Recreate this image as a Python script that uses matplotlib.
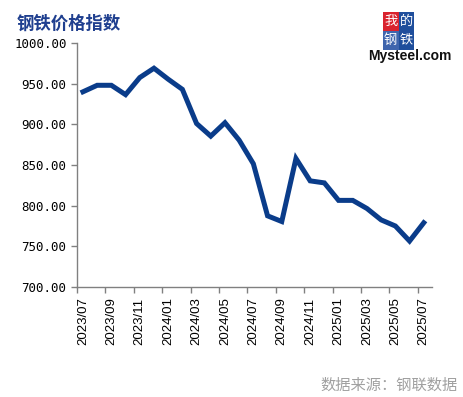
import matplotlib.pyplot as plt
import matplotlib.patches as mpatches
import numpy as np

# monthly steel price index, 2023/07 .. 2025/07
months = ['2023/07', '2023/08', '2023/09', '2023/10', '2023/11', '2023/12',
          '2024/01', '2024/02', '2024/03', '2024/04', '2024/05', '2024/06',
          '2024/07', '2024/08', '2024/09', '2024/10', '2024/11', '2024/12',
          '2025/01', '2025/02', '2025/03', '2025/04', '2025/05', '2025/06',
          '2025/07']
index_vals = [940, 948, 948, 936.5, 957.5, 969, 955.5, 943, 901, 885.5,
              902, 880.5, 851.5, 787.5, 780.5, 858, 830.5, 828, 806.5, 806.5,
              796.5, 782.5, 775, 756.5, 779]
tick_labels = months[::2]
y_ticks = [700, 750, 800, 850, 900, 950, 1000]

W, H = 463, 397
fig = plt.figure(figsize=(W / 100, H / 100), dpi=100)
ax = fig.add_axes([77 / W, 1 - 287 / H, (432 - 77) / W, (287 - 43) / H])

x = np.arange(len(months)) + 0.42   # data dated mid-month
ax.plot(x, index_vals, color='#0a3c8a', lw=3.6, solid_joinstyle='miter')

ax.set_xlim(0, len(months))
ax.set_ylim(700, 1000)
ax.set_xticks(np.arange(0, len(months), 2))
ax.set_xticklabels(tick_labels, rotation=90, ha='left', va='top',
                   family='Liberation Sans', fontsize=9.5)
ax.set_yticks(y_ticks)
ax.set_yticklabels([f'{v:.2f}' for v in y_ticks], family='DejaVu Sans Mono', fontsize=9)

for s in ['top', 'right']:
    ax.spines[s].set_visible(False)
for s in ['left', 'bottom']:
    ax.spines[s].set_color('#808080')
    ax.spines[s].set_linewidth(1)
ax.tick_params(axis='both', color='#808080', length=4.5, width=1)
ax.tick_params(axis='x', pad=3)
ax.tick_params(axis='y', pad=3)

# title
fig.text(17 / W, 1 - 23.5 / H, '钢铁价格指数', family=['Noto Sans CJK SC', 'DejaVu Sans'],
         fontsize=12.5, fontweight='bold', color='#1f3f8f', ha='left', va='center')

# source
fig.text(458 / W, 1 - 385 / H, '数据来源：钢联数据', family=['Noto Sans CJK SC', 'DejaVu Sans'],
         fontsize=11, color='#a0a0a0', ha='right', va='center')

# logo
boxes = [('我', 382.7, 11.7, '#d9232e', 'white'),
         ('的', 398.5, 11.7, '#1f4e9c', 'white'),
         ('钢', 382.7, 30.7, '#3f65ad', 'white'),
         ('铁', 398.5, 30.7, '#1f4e9c', 'white')]
for ch, bx, by, bg, fg in boxes:
    rect = mpatches.Rectangle((bx / W, 1 - (by + 19) / H), 15.8 / W, 19 / H,
                              transform=fig.transFigure, facecolor=bg, edgecolor='none')
    fig.patches.append(rect)
    fig.text((bx + 7.9) / W, 1 - (by + 9.5) / H, ch, family=['Noto Sans CJK SC', 'DejaVu Sans'],
             fontsize=9.5, color=fg, ha='center', va='center')
fig.text(410 / W, 1 - 56 / H, 'Mysteel.com', family='Liberation Sans', fontsize=10,
         fontweight='bold', color='#111111', ha='center', va='center')

plt.savefig('out.png', dpi=100)
